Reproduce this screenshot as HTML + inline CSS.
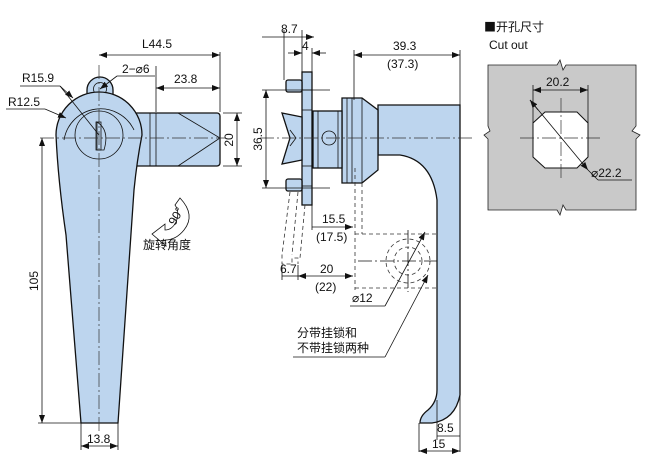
<!DOCTYPE html>
<html><head><meta charset="utf-8"><style>
html,body{margin:0;padding:0;background:#fff;}
svg{display:block;}
text{font-family:"Liberation Sans","Noto Sans CJK SC",sans-serif;font-size:12px;fill:#111;}
.cn{font-family:"Noto Sans CJK SC","WenQuanYi Zen Hei",sans-serif;}
.f{fill:#bdd5ee;stroke:#111;stroke-width:1.3;}
.l{stroke:#111;stroke-width:0.8;fill:none;}
.c{stroke:#333;stroke-width:0.7;fill:none;stroke-dasharray:14 3 2 3;}
.d{stroke:#333;stroke-width:0.8;fill:none;stroke-dasharray:4 3;}
</style></head><body>
<svg width="650" height="460" viewBox="0 0 650 460" xmlns="http://www.w3.org/2000/svg">
<defs>
<marker id="a" markerWidth="8" markerHeight="6" refX="8" refY="3" orient="auto-start-reverse" markerUnits="userSpaceOnUse"><path d="M0,0 L8,3 L0,6z" fill="#111"/></marker>
</defs>
<!-- LEFT VIEW -->
<rect class="f" x="130" y="113" width="90" height="53" rx="3"/>
<line class="l" x1="150" y1="113" x2="150" y2="166"/><line class="l" x1="156" y1="113" x2="156" y2="166"/>
<polyline class="l" points="178,113 220,138 178,166"/>
<path class="f" d="M87,90 A13,13 0 1 1 113,90 L113,104 L87,104z"/>
<circle class="l" cx="100" cy="89" r="6.5"/>
<path class="f" d="M56,135 A43,43 0 0 1 142,135 Q137,160 134,190 L118,423 L81,423 L66,235 Q58,180 56,135z"/>
<path class="l" d="M64,140 A37,37 0 0 1 134,130"/>
<circle class="l" cx="99" cy="135" r="24"/>
<path class="l" d="M97,122 Q110,130 104,150 L97,150 Z"/>
<rect class="l" x="96" y="122" width="5" height="28"/>
<line class="c" x1="99" y1="65" x2="99" y2="432"/>
<line class="c" x1="40" y1="138" x2="226" y2="138"/>
<!-- dims left -->
<line class="l" x1="220" y1="52" x2="220" y2="112"/>
<line class="l" x1="99" y1="55" x2="220" y2="55" marker-start="url(#a)" marker-end="url(#a)"/>
<text x="142" y="48">L44.5</text>
<line class="l" x1="156" y1="66" x2="156" y2="112"/>
<line class="l" x1="156" y1="88" x2="220" y2="88" marker-start="url(#a)" marker-end="url(#a)"/>
<text x="174" y="83">23.8</text>
<text x="122" y="73">2−⌀6</text>
<line class="l" x1="117" y1="76" x2="155" y2="76"/>
<line class="l" x1="117" y1="76" x2="100" y2="89" marker-end="url(#a)"/>
<line class="l" x1="223" y1="113" x2="242" y2="113"/><line class="l" x1="223" y1="166" x2="242" y2="166"/>
<line class="l" x1="237" y1="113" x2="237" y2="166" marker-start="url(#a)" marker-end="url(#a)"/>
<text transform="translate(233,140) rotate(-90)" text-anchor="middle">20</text>
<text x="22" y="82">R15.9</text>
<line class="l" x1="20" y1="86" x2="60" y2="86"/>
<line class="l" x1="60" y1="86" x2="99" y2="135"/>
<line class="l" x1="60" y1="86" x2="73" y2="98" marker-end="url(#a)"/>
<text x="8" y="106">R12.5</text>
<line class="l" x1="6" y1="109" x2="45" y2="109"/>
<line class="l" x1="45" y1="109" x2="66" y2="118" marker-end="url(#a)"/>
<line class="l" x1="38" y1="423" x2="81" y2="423"/>
<line class="l" x1="42" y1="138" x2="42" y2="423" marker-start="url(#a)" marker-end="url(#a)"/>
<text transform="translate(38,281) rotate(-90)" text-anchor="middle">105</text>
<line class="l" x1="81" y1="423" x2="81" y2="450"/><line class="l" x1="118" y1="423" x2="118" y2="450"/>
<line class="l" x1="81" y1="446" x2="118" y2="446" marker-start="url(#a)" marker-end="url(#a)"/>
<text x="87" y="443">13.8</text>
<!-- rotation icon -->
<path class="l" d="M180,198 Q196,215 184,230 Q176,240 165,240 L166,246 L152,234 L165,224 L165,230 Q172,230 176,222 Q180,212 175,205 Z"/>
<text transform="translate(175,226) rotate(-60)" font-size="10">90°</text>
<text x="143" y="249" class="cn" font-size="12">旋转角度</text>
<!-- MIDDLE VIEW -->
<path class="f" d="M386,105 L460,105 L460,395 Q455,420 432,423 L420,423 Q420,416 428,410 Q437,402 437,390 L437,200 Q432,160 400,155 L378,155 L378,105z"/>
<path class="f" d="M342,98 L362,98 L378,110 L378,170 L362,183 L342,183z"/>
<line class="l" x1="347" y1="98" x2="347" y2="183"/><line class="l" x1="352" y1="98" x2="352" y2="183"/><line class="l" x1="362" y1="98" x2="362" y2="183"/>
<rect class="f" x="313" y="111" width="29" height="57"/>
<line class="l" x1="318" y1="111" x2="318" y2="168"/><line class="l" x1="338" y1="111" x2="338" y2="168"/>
<circle class="l" cx="329" cy="138" r="7"/>
<rect class="f" x="302" y="72" width="10" height="133"/>
<line class="l" x1="302" y1="90" x2="312" y2="90"/><line class="l" x1="302" y1="110" x2="312" y2="110"/><line class="l" x1="302" y1="166" x2="312" y2="166"/><line class="l" x1="302" y1="186" x2="312" y2="186"/>
<path class="f" d="M282,113 L302,117 L302,160 L282,164 L290,138z"/>
<path class="l" d="M290,130 L296,138 L290,146"/>
<rect class="f" x="286" y="80" width="16" height="12" rx="2"/>
<rect class="f" x="286" y="179" width="16" height="12" rx="2"/>
<line class="c" x1="260" y1="138" x2="475" y2="138"/>
<!-- dashed ghost -->
<path class="d" d="M290,192 L282,255 L282,264 L292,264 L292,258 L298,258 L298,264 M298,192 L292,255 M305,205 L300,258"/>
<line class="d" x1="355" y1="168" x2="355" y2="290"/><line class="d" x1="362" y1="183" x2="362" y2="234"/>
<line class="d" x1="355" y1="234" x2="437" y2="234"/><line class="d" x1="355" y1="288" x2="437" y2="288"/>
<circle class="d" cx="408" cy="261" r="22"/><circle class="d" cx="408" cy="261" r="14"/>
<line class="l" x1="358" y1="261" x2="437" y2="261" stroke-dasharray="14 3 2 3"/>
<line class="l" x1="408" y1="230" x2="408" y2="292" stroke-dasharray="14 3 2 3"/>
<!-- dims middle -->
<line class="l" x1="284" y1="30" x2="284" y2="80"/><line class="l" x1="302" y1="30" x2="302" y2="72"/><line class="l" x1="312" y1="48" x2="312" y2="72"/>
<line class="l" x1="262" y1="37" x2="314" y2="37" marker-end="url(#a)"/>
<text x="281" y="33">8.7</text>
<line class="l" x1="288" y1="53" x2="302" y2="53" marker-end="url(#a)"/><line class="l" x1="326" y1="53" x2="312" y2="53" marker-end="url(#a)"/>
<text x="302" y="50">4</text>
<line class="l" x1="262" y1="90" x2="330" y2="90"/><line class="l" x1="262" y1="188" x2="330" y2="188"/>
<line class="l" x1="266" y1="90" x2="266" y2="188" marker-start="url(#a)" marker-end="url(#a)"/>
<text transform="translate(262,139) rotate(-90)" text-anchor="middle">36.5</text>
<line class="l" x1="354" y1="50" x2="354" y2="100"/><line class="l" x1="460" y1="50" x2="460" y2="105"/>
<line class="l" x1="354" y1="55" x2="460" y2="55" marker-start="url(#a)" marker-end="url(#a)"/>
<text x="393" y="50">39.3</text><text x="387" y="68">(37.3)</text>
<line class="l" x1="312" y1="205" x2="312" y2="230"/>
<line class="l" x1="312" y1="227" x2="353" y2="227" marker-end="url(#a)"/>
<text x="322" y="223">15.5</text><text x="316" y="241">(17.5)</text>
<line class="l" x1="282" y1="265" x2="282" y2="280"/><line class="l" x1="298" y1="265" x2="298" y2="280"/>
<line class="l" x1="282" y1="276" x2="298" y2="276"/>
<line class="l" x1="298" y1="276" x2="353" y2="276" marker-start="url(#a)" marker-end="url(#a)"/>
<text x="280" y="273">6.7</text><text x="320" y="273">20</text><text x="315" y="291">(22)</text>
<text x="352" y="302">⌀12</text>
<line class="l" x1="350" y1="306" x2="385" y2="306"/>
<line class="l" x1="385" y1="306" x2="425" y2="232" marker-end="url(#a)"/>
<text x="297" y="337" class="cn" font-size="12">分带挂锁和</text>
<text x="297" y="352" class="cn" font-size="12">不带挂锁两种</text>
<line class="l" x1="293" y1="357" x2="385" y2="357"/>
<line class="l" x1="385" y1="357" x2="428" y2="275" marker-end="url(#a)"/>
<line class="l" x1="419" y1="423" x2="419" y2="452"/><line class="l" x1="460" y1="395" x2="460" y2="452"/><line class="l" x1="437" y1="400" x2="437" y2="440"/>
<line class="l" x1="437" y1="436" x2="460" y2="436"/>
<text x="437" y="432">8.5</text>
<line class="l" x1="419" y1="451" x2="460" y2="451" marker-start="url(#a)" marker-end="url(#a)"/>
<text x="432" y="448">15</text>
<!-- CUTOUT -->
<text x="484" y="31" class="cn" font-size="14">■开孔尺寸</text>
<text x="489" y="49" font-size="14">Cut out</text>
<path d="M488,65 L557,65 L560,60 L563,70 L566,65 L636,65 L636,126 L632,131 L640,135 L636,139 L636,210 L566,210 L563,205 L560,215 L557,210 L488,210 L488,139 L484,135 L490,131 L488,126z" fill="#c9c9c9" stroke="#222" stroke-width="0.8"/>
<path d="M545,112 L577,112 L588,123 L588,157 L577,168 L545,168 L533,157 L533,123z" fill="#fff" stroke="#111" stroke-width="1"/>
<line class="c" x1="520" y1="138" x2="602" y2="138"/><line class="c" x1="561" y1="98" x2="561" y2="178"/>
<line class="l" x1="533" y1="85" x2="533" y2="123"/><line class="l" x1="588" y1="85" x2="588" y2="123"/>
<line class="l" x1="533" y1="90" x2="588" y2="90" marker-start="url(#a)" marker-end="url(#a)"/>
<text x="546" y="86">20.2</text>
<line class="l" x1="530" y1="100" x2="588" y2="170" marker-end="url(#a)"/>
<line class="l" x1="530" y1="100" x2="538" y2="110" marker-start="url(#a)"/>
<line class="l" x1="588" y1="170" x2="598" y2="180"/><line class="l" x1="598" y1="180" x2="632" y2="180"/>
<text x="591" y="177">⌀22.2</text>
</svg>
</body></html>
